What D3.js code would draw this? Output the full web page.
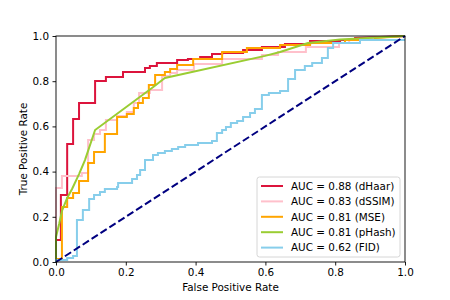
<!DOCTYPE html>
<html>
	<head>
		<meta charset="UTF-8">
		<title>ROC</title>
		<style>
			body { margin: 0; background: #fff; }
			svg text { font-family: "DejaVu Sans", sans-serif; font-size: 10.4px; fill: #000; }
			.axis path, .axis line { fill: none; stroke: #000; stroke-width: 0.9; }
		</style>
	</head>
	<body>
		<script src="https://cdn.jsdelivr.net/npm/d3@7/dist/d3.min.js"></script>
		<script type="text/javascript">
			// roc points (fpr, tpr)
			var fprHaar = [0,0,0.014,0.014,0.032,0.032,0.049,0.049,0.066,0.066,0.112,0.112,0.143,0.143,0.192,0.192,0.255,0.255,0.269,0.269,0.289,0.289,0.347,0.347,0.378,0.378,0.413,0.413,0.447,0.447,0.476,0.476,0.536,0.536,0.590,0.590,0.656,0.656,0.728,0.728,0.814,0.814,0.857,0.857,1];
			var tprHaar = [0,0.097,0.097,0.296,0.296,0.522,0.522,0.633,0.633,0.704,0.704,0.801,0.801,0.819,0.819,0.841,0.841,0.858,0.858,0.867,0.867,0.881,0.881,0.894,0.894,0.898,0.898,0.907,0.907,0.920,0.920,0.925,0.925,0.938,0.938,0.951,0.951,0.965,0.965,0.978,0.978,0.982,0.982,0.991,1];

			var fprSSIM = [0,0,0.017,0.017,0.074,0.074,0.092,0.092,0.109,0.109,0.126,0.126,0.143,0.143,0.175,0.175,0.203,0.203,0.223,0.223,0.238,0.238,0.269,0.269,0.304,0.304,0.327,0.327,0.347,0.347,0.395,0.395,0.476,0.476,0.590,0.590,0.636,0.636,0.716,0.716,0.811,0.811,0.840,0.840,0.900,0.900,1];
			var tprSSIM = [0,0.327,0.327,0.381,0.381,0.394,0.394,0.540,0.540,0.566,0.566,0.584,0.584,0.628,0.628,0.646,0.646,0.664,0.664,0.704,0.704,0.748,0.748,0.761,0.761,0.823,0.823,0.836,0.836,0.850,0.850,0.876,0.876,0.898,0.898,0.916,0.916,0.929,0.929,0.951,0.951,0.969,0.969,0.982,0.982,0.991,1];

			var fprMSE = [0,0,0.017,0.017,0.032,0.032,0.049,0.049,0.066,0.066,0.092,0.092,0.109,0.109,0.140,0.140,0.175,0.175,0.203,0.203,0.223,0.223,0.235,0.235,0.249,0.249,0.266,0.266,0.284,0.284,0.312,0.312,0.327,0.327,0.347,0.347,0.393,0.393,0.476,0.476,0.547,0.547,0.642,0.642,0.728,0.728,0.828,0.828,0.914,0.914,1];
			var tprMSE = [0,0.013,0.013,0.243,0.243,0.283,0.283,0.305,0.305,0.358,0.358,0.438,0.438,0.487,0.487,0.566,0.566,0.642,0.642,0.655,0.655,0.681,0.681,0.704,0.704,0.726,0.726,0.783,0.783,0.827,0.827,0.841,0.841,0.854,0.854,0.872,0.872,0.898,0.898,0.929,0.929,0.947,0.947,0.960,0.960,0.969,0.969,0.982,0.982,0.991,1];

			var fprHash = [0,0,0.009,0.017,0.032,0.046,0.066,0.083,0.112,0.275,0.312,0.599,0.642,0.722,0.814,1];
			var tprHash = [0,0.111,0.168,0.226,0.283,0.323,0.389,0.451,0.584,0.770,0.814,0.912,0.929,0.969,0.985,1];

			var fprFID = [0,0,0.032,0.032,0.049,0.049,0.060,0.060,0.077,0.077,0.095,0.095,0.109,0.109,0.126,0.126,0.140,0.140,0.175,0.175,0.178,0.178,0.218,0.218,0.232,0.232,0.241,0.241,0.255,0.255,0.278,0.278,0.292,0.292,0.312,0.312,0.332,0.332,0.350,0.350,0.370,0.370,0.407,0.407,0.447,0.447,0.461,0.461,0.476,0.476,0.487,0.487,0.501,0.501,0.519,0.519,0.536,0.536,0.556,0.556,0.570,0.570,0.590,0.590,0.610,0.610,0.642,0.642,0.665,0.665,0.685,0.685,0.713,0.713,0.734,0.734,0.762,0.762,0.779,0.779,0.794,0.794,0.871,0.871,1];
			var tprFID = [0,0.009,0.009,0.018,0.018,0.027,0.027,0.186,0.186,0.230,0.230,0.279,0.279,0.296,0.296,0.310,0.310,0.323,0.323,0.332,0.332,0.350,0.350,0.367,0.367,0.385,0.385,0.407,0.407,0.451,0.451,0.473,0.473,0.482,0.482,0.491,0.491,0.500,0.500,0.509,0.509,0.518,0.518,0.527,0.527,0.535,0.535,0.571,0.571,0.584,0.584,0.597,0.597,0.615,0.615,0.624,0.624,0.642,0.642,0.659,0.659,0.677,0.677,0.739,0.739,0.748,0.748,0.757,0.757,0.810,0.810,0.850,0.850,0.867,0.867,0.881,0.881,0.903,0.903,0.947,0.947,0.969,0.969,0.982,0.982,0.996,1];

			var labels = ["AUC = 0.88 (dHaar)", "AUC = 0.83 (dSSIM)", "AUC = 0.81 (MSE)", "AUC = 0.81 (pHash)", "AUC = 0.62 (FID)"];
			var colors = ["crimson", "pink", "orange", "yellowgreen", "skyblue"];
			var tickVals = [0, 0.2, 0.4, 0.6, 0.8, 1.0];

			var series = [
				[fprHaar, tprHaar],
				[fprSSIM, tprSSIM],
				[fprMSE, tprMSE],
				[fprHash, tprHash],
				[fprFID, tprFID]
			];

			var W = 450, H = 300;
			var margin = {left: 56, top: 36, right: 45, bottom: 38};
			var w = W - margin.left - margin.right;
			var h = H - margin.top - margin.bottom;

			var svg = d3.select("body").append("svg")
				.attr("width", W)
				.attr("height", H);

			var g = svg.append("g")
				.attr("transform", "translate(" + margin.left + "," + margin.top + ")");

			var x = d3.scaleLinear().domain([0, 1]).range([0, w]);
			var y = d3.scaleLinear().domain([0, 1]).range([h, 0]);

			var line = d3.line()
				.x(function(d){ return x(d[0]); })
				.y(function(d){ return y(d[1]); });

			series.forEach(function(s, i){
				var pts = d3.zip(s[0], s[1]);
				g.append("path")
					.datum(pts)
					.attr("d", line)
					.attr("fill", "none")
					.attr("stroke", colors[i])
					.attr("stroke-width", 2)
					.attr("stroke-linejoin", "miter");
			});

			// chance line
			g.append("path")
				.datum([[0, 0], [1, 1]])
				.attr("d", line)
				.attr("fill", "none")
				.attr("stroke", "navy")
				.attr("stroke-width", 2)
				.attr("stroke-dasharray", "7.4,3.2");

			// axes
			var fmt = d3.format(".1f");
			g.append("g")
				.attr("class", "axis")
				.attr("transform", "translate(0," + h + ")")
				.call(d3.axisBottom(x).tickValues(tickVals).tickFormat(fmt).tickSize(3.5).tickSizeOuter(0).tickPadding(3.5))
				.call(function(a){ a.select(".domain").remove(); });

			g.append("g")
				.attr("class", "axis")
				.call(d3.axisLeft(y).tickValues(tickVals).tickFormat(fmt).tickSize(3.5).tickSizeOuter(0).tickPadding(3.5))
				.call(function(a){ a.select(".domain").remove(); });

			g.selectAll(".axis text")
				.attr("font-family", "DejaVu Sans")
				.attr("font-size", "10.4px");

			// frame
			g.append("rect")
				.attr("width", w)
				.attr("height", h)
				.attr("fill", "none")
				.attr("stroke", "#000")
				.attr("stroke-width", 0.9);

			svg.append("text")
				.attr("x", margin.left + w / 2)
				.attr("y", 291)
				.attr("text-anchor", "middle")
				.text("False Positive Rate");

			svg.append("text")
				.attr("transform", "translate(26.5," + (margin.top + h / 2) + ") rotate(-90)")
				.attr("text-anchor", "middle")
				.text("True Positive Rate");

			// legend, lower right
			var lg = svg.append("g").attr("transform", "translate(257,177)");
			lg.append("rect")
				.attr("width", 143)
				.attr("height", 80)
				.attr("rx", 2.5)
				.attr("fill", "#fff")
				.attr("fill-opacity", 0.8)
				.attr("stroke", "#d6d6d6")
				.attr("stroke-width", 1);

			var rows = lg.selectAll(".row")
				.data(labels)
				.enter()
				.append("g")
				.attr("class", "row")
				.attr("transform", function(d, i){ return "translate(0," + (9 + i * 15.4) + ")"; });

			rows.append("line")
				.attr("x1", 4)
				.attr("x2", 26)
				.attr("stroke", function(d, i){ return colors[i]; })
				.attr("stroke-width", 2);

			rows.append("text")
				.attr("x", 34)
				.attr("dy", "0.36em")
				.text(function(d){ return d; });
		</script>
	</body>
</html>
